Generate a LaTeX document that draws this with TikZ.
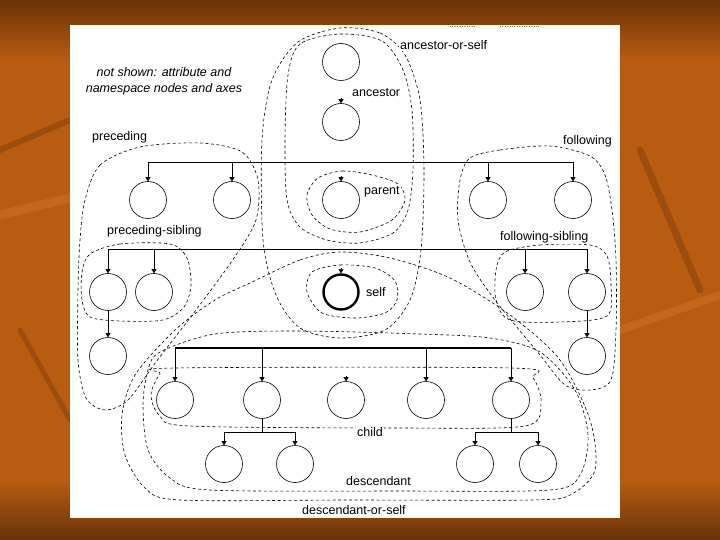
\documentclass[tikz,border=0pt]{standalone}
\usepackage{fontspec}
\setmainfont{Liberation Sans}
\usetikzlibrary{arrows.meta}
\definecolor{slide_dark}{RGB}{105,50,8}
\definecolor{slide_mid}{RGB}{184,92,18}
\definecolor{slide_light}{RGB}{214,124,44}

\begin{document}
\begin{tikzpicture}[x = 1pt, y = -1pt,
  tree_node/.style = {circle, draw, fill = white, minimum size = 37pt, inner sep = 0pt, line width = .6pt},
  tree_line/.style = {line width = .7pt},
  tree_arrow/.style = {line width = .7pt, -{Triangle[width = 5pt, length = 4pt]}},
  contour/.style = {line width = .6pt, dash pattern = on 3pt off 2.5pt},
  streak/.style = {line cap = round, opacity = .35},
  axis_label/.style = {fill = white, inner sep = 1pt, font = \fontsize{12.5}{16}\selectfont}]
\useasboundingbox (0,0) rectangle (720,540);
% slide background and white panel
\fill[slide_mid] (0,0) rectangle (720,540);
\shade[top color = slide_dark, bottom color = slide_mid] (0,0) rectangle (720,60);
\shade[top color = slide_mid, bottom color = slide_dark] (0,480) rectangle (720,540);
\draw[streak, slide_light, line width = 9pt] (0,215) -- (70,198);
\draw[streak, slide_dark, line width = 6pt] (0,150) -- (70,120);
\draw[streak, slide_dark, line width = 7pt] (640,150) -- (700,290);
\draw[streak, slide_light, line width = 8pt] (620,330) -- (720,295);
\draw[streak, slide_dark, line width = 5pt] (20,330) -- (70,420);
\fill[white] (70,25) rectangle (620,518);
\draw[dotted, gray] (450,26) -- (475,26) (500,26) -- (540,26);

% axis contours
\draw[contour] plot[smooth cycle] coordinates {(340,28) (380,33) (405,55) (420,100) (424,170) (421,250) (410,300) (385,330) (340,338) (300,328) (276,295) (263,240) (262,140) (272,80) (298,42)};
\draw[contour] plot[smooth cycle] coordinates {(300,44) (340,34) (382,41) (403,70) (412,110) (413,170) (408,210) (393,233) (360,243) (327,240) (300,227) (287,200) (285,140) (288,75)};
\draw[contour] plot[smooth cycle] coordinates {(318,178) (342,171) (372,175) (398,184) (405,200) (392,220) (360,232) (330,229) (312,215) (307,195)};
\draw[contour] plot[smooth cycle] coordinates {(312,272) (340,265) (375,268) (395,281) (397,300) (385,313) (355,318) (322,313) (307,292)};
\draw[contour] plot[smooth cycle] coordinates {(85,200) (100,165) (140,147) (200,143) (242,152) (258,180) (256,220) (234,258) (196,310) (156,362) (128,400) (105,410) (86,398) (78,360) (78,290) (80,240)};
\draw[contour] plot[smooth cycle] coordinates {(90,254) (120,244) (170,244) (187,258) (191,285) (184,307) (163,320) (120,321) (90,317) (82,300) (82,272)};
\draw[contour] plot[smooth cycle] coordinates {(470,158) (500,150) (550,146) (590,156) (605,175) (612,210) (616,260) (616,330) (611,380) (590,390) (565,385) (540,355) (495,300) (470,262) (458,220) (460,180)};
\draw[contour] plot[smooth cycle] coordinates {(505,252) (540,245) (590,245) (607,256) (611,285) (607,316) (560,322) (510,320) (496,300) (496,270)};
\draw[contour] plot[smooth cycle] coordinates {(250,283) (300,260) (340,252) (390,258) (450,278) (510,315) (560,360) (590,420) (595,470) (570,495) (530,500) (350,500) (180,500) (145,488) (125,455) (122,415) (135,375) (175,330) (215,300)};
\draw[contour] plot[smooth cycle] coordinates {(160,352) (215,334) (300,331) (420,334) (490,338) (540,352) (575,390) (588,435) (580,475) (550,490) (400,491) (210,490) (170,478) (148,450) (143,405) (148,370)};
\draw[contour] plot[smooth cycle] coordinates {(175,368) (511,368) (533,378) (541,403) (525,426) (400,428) (190,426) (160,416) (151,395) (160,374)};

% document tree
\node[tree_node] (root) at (341,62) {};
\node[tree_node] (anc) at (341,122) {};
\node[tree_node] (p1) at (148,200) {};
\node[tree_node] (p2) at (232,200) {};
\node[tree_node] (parent) at (341,200) {};
\node[tree_node] (f1) at (488,200) {};
\node[tree_node] (f2) at (573,200) {};
\node[tree_node] (ps1) at (108,292) {};
\node[tree_node] (ps2) at (154,292) {};
\node[tree_node, line width = 2.4pt, minimum size = 35pt] (self) at (341,292) {};
\node[tree_node] (fs1) at (525,292) {};
\node[tree_node] (fs2) at (587,292) {};
\node[tree_node] (psc) at (108,356) {};
\node[tree_node] (fsc) at (587,356) {};
\node[tree_node] (c1) at (175,400) {};
\node[tree_node] (c2) at (262,400) {};
\node[tree_node] (c3) at (346,400) {};
\node[tree_node] (c4) at (426,400) {};
\node[tree_node] (c5) at (511,400) {};
\node[tree_node] (g1) at (224,464) {};
\node[tree_node] (g2) at (295,464) {};
\node[tree_node] (g3) at (475,464) {};
\node[tree_node] (g4) at (538,464) {};

\coordinate (bar_two) at (0,162);
\coordinate (bar_three) at (0,249);
\coordinate (bar_kids) at (0,348);
\coordinate (bar_grand) at (0,432);
\draw[tree_line] (p1.north |- bar_two) -- (f2.north |- bar_two);
\foreach \n in {p1,p2,f1,f2} \draw[tree_arrow] (\n.north |- bar_two) -- (\n.north);
\draw[tree_line] (ps1.north |- bar_three) -- (fs2.north |- bar_three);
\foreach \n in {ps1,ps2,fs1,fs2} \draw[tree_arrow] (\n.north |- bar_three) -- (\n.north);
\draw[tree_arrow] (ps1.south) -- (psc.north);
\draw[tree_arrow] (fs2.south) -- (fsc.north);
\draw[tree_line, line width = 1.3pt] (c1.north |- bar_kids) -- (c5.north |- bar_kids);
\foreach \n in {c1,c2,c4,c5} \draw[tree_arrow] (\n.north |- bar_kids) -- (\n.north);
\draw[tree_line] (c2.south) -- (c2.south |- bar_grand);
\draw[tree_line] (g1.north |- bar_grand) -- (g2.north |- bar_grand);
\draw[tree_line] (c5.south) -- (c5.south |- bar_grand);
\draw[tree_line] (g3.north |- bar_grand) -- (g4.north |- bar_grand);
\foreach \n in {g1,g2,g3,g4} \draw[tree_arrow] (\n.north |- bar_grand) -- (\n.north);
\foreach \n in {anc,parent,self,c3} \draw[tree_arrow] ([yshift = 5pt]\n.north) -- (\n.north);

% axis names
\node[axis_label, anchor = west] (lbl_aos) at (399,45) {ancestor-or-self};
\node[axis_label, anchor = west] (lbl_anc) at (351,93) {ancestor};
\node[axis_label, align = center, font = \fontsize{12.5}{16}\selectfont\itshape] (lbl_note) at (164,81) {not shown: attribute and\\namespace nodes and axes};
\node[axis_label, anchor = west] (lbl_prec) at (91,137) {preceding};
\node[axis_label, anchor = west] (lbl_foll) at (562,141) {following};
\node[axis_label, anchor = west] (lbl_par) at (363,192) {parent};
\node[axis_label, anchor = west] (lbl_ps) at (106,231) {preceding-sibling};
\node[axis_label, anchor = west] (lbl_fs) at (499,237) {following-sibling};
\node[axis_label, anchor = west] (lbl_self) at (365,292) {self};
\node[axis_label, anchor = west] (lbl_child) at (356,432) {child};
\node[axis_label, anchor = west] (lbl_desc) at (345,481) {descendant};
\node[axis_label, anchor = west] (lbl_dos) at (301,510) {descendant-or-self};
\end{tikzpicture}
\end{document}
